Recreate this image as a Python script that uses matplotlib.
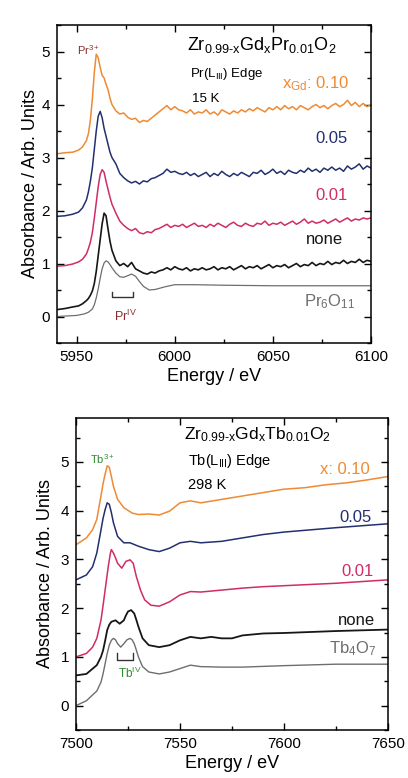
import numpy as np
import matplotlib
matplotlib.use("Agg")
import matplotlib.pyplot as plt
from matplotlib.ticker import MultipleLocator

plt.rcParams['font.family'] = ['Liberation Sans', 'DejaVu Sans']
plt.rcParams['mathtext.fontset'] = 'custom'
plt.rcParams['mathtext.rm'] = 'Liberation Sans'
plt.rcParams['mathtext.it'] = 'Liberation Sans'

# ---------------- Top panel: Pr L_III edge, 15 K ----------------
pr_E_head = [5940, 5944, 5948, 5951, 5953, 5955, 5956, 5957, 5958, 5959,
             5960, 5961, 5962, 5963, 5964, 5965, 5966, 5967, 5968]
pr_E_tail = list(range(5970, 6101, 2))
pr_E = pr_E_head + pr_E_tail

pr_x010 = [3.07, 3.09, 3.10, 3.14, 3.20, 3.32, 3.45, 3.70, 4.10, 4.60,
           4.95, 4.88, 4.70, 4.55, 4.50, 4.38, 4.28, 4.12, 4.00,
           3.88, 3.82, 3.84, 3.76, 3.72, 3.74, 3.66, 3.70, 3.68, 3.74, 3.80,
           3.86, 3.92, 3.98, 3.90, 3.96, 3.90, 3.88, 3.84, 3.90, 3.82, 3.86,
           3.84, 3.90, 3.82, 3.86, 3.80, 3.90, 3.86, 3.82, 3.88, 3.84, 3.90,
           3.86, 3.92, 3.88, 3.94, 3.90, 3.86, 3.94, 3.90, 3.96, 3.90, 3.98,
           3.92, 3.96, 3.90, 3.98, 3.94, 3.90, 3.96, 4.00, 3.94, 3.98, 3.92,
           3.98, 4.02, 3.96, 4.00, 4.08, 3.98, 4.04, 3.96, 4.02, 3.96, 4.00]
pr_x005 = [1.89, 1.90, 1.93, 1.97, 2.05, 2.20, 2.35, 2.55, 2.80, 3.15,
           3.50, 3.78, 3.87, 3.75, 3.55, 3.40, 3.25, 3.10, 3.00,
           2.88, 2.70, 2.62, 2.56, 2.52, 2.55, 2.50, 2.56, 2.54, 2.60, 2.62,
           2.66, 2.70, 2.78, 2.72, 2.74, 2.70, 2.68, 2.72, 2.66, 2.70, 2.64,
           2.68, 2.72, 2.64, 2.70, 2.66, 2.74, 2.68, 2.64, 2.70, 2.66, 2.72,
           2.68, 2.64, 2.72, 2.70, 2.76, 2.68, 2.72, 2.78, 2.70, 2.74, 2.68,
           2.76, 2.72, 2.70, 2.76, 2.72, 2.80, 2.74, 2.78, 2.72, 2.80, 2.76,
           2.82, 2.76, 2.80, 2.74, 2.84, 2.78, 2.82, 2.88, 2.78, 2.84, 2.80]
pr_x001 = [0.95, 0.96, 0.99, 1.03, 1.08, 1.18, 1.28, 1.40, 1.58, 1.85,
           2.15, 2.45, 2.68, 2.77, 2.72, 2.55, 2.40, 2.25, 2.12,
           1.95, 1.80, 1.72, 1.66, 1.62, 1.66, 1.58, 1.56, 1.60, 1.58, 1.64,
           1.66, 1.70, 1.74, 1.68, 1.72, 1.70, 1.74, 1.68, 1.72, 1.76, 1.70,
           1.72, 1.68, 1.74, 1.70, 1.76, 1.72, 1.68, 1.74, 1.78, 1.72, 1.70,
           1.76, 1.72, 1.70, 1.76, 1.74, 1.80, 1.72, 1.76, 1.74, 1.78, 1.72,
           1.76, 1.80, 1.74, 1.78, 1.84, 1.76, 1.80, 1.76, 1.78, 1.82, 1.76,
           1.80, 1.84, 1.78, 1.82, 1.86, 1.80, 1.84, 1.82, 1.86, 1.84, 1.86]
pr_none = [0.13, 0.15, 0.18, 0.20, 0.24, 0.30, 0.34, 0.40, 0.48, 0.62,
           0.85, 1.15, 1.45, 1.75, 1.95, 1.90, 1.65, 1.42, 1.25,
           1.05, 0.96, 1.00, 0.94, 1.02, 0.90, 0.86, 0.82, 0.80, 0.84, 0.82,
           0.86, 0.88, 0.92, 0.88, 0.94, 0.90, 0.88, 0.92, 0.86, 0.90, 0.88,
           0.92, 0.88, 0.90, 0.94, 0.88, 0.92, 0.90, 0.94, 0.88, 0.92, 0.96,
           0.90, 0.94, 0.92, 0.96, 0.90, 0.94, 0.98, 0.92, 0.96, 0.94, 0.98,
           0.92, 0.96, 1.00, 0.94, 0.98, 0.96, 1.02, 0.96, 1.00, 0.98, 1.04,
           0.98, 1.02, 1.00, 1.06, 1.00, 1.04, 1.02, 1.08, 1.02, 1.06, 1.04]

pr6o11_E = [5940, 5945, 5950, 5954, 5956, 5958, 5959, 5960, 5961, 5962, 5963,
            5964, 5965, 5966, 5967, 5968, 5970, 5972, 5974, 5976, 5978, 5980,
            5982, 5984, 5987, 5990, 5995, 6000, 6010, 6025, 6050, 6075, 6100]
pr6o11_y = [0.00, 0.01, 0.02, 0.05, 0.08, 0.14, 0.22, 0.35, 0.52, 0.72, 0.90,
            1.01, 1.05, 1.03, 0.98, 0.92, 0.82, 0.75, 0.74, 0.77, 0.80, 0.76,
            0.66, 0.57, 0.50, 0.51, 0.56, 0.60, 0.60, 0.59, 0.58, 0.58, 0.58]

# ---------------- Bottom panel: Tb L_III edge, 298 K ----------------
tb4o7_E = [7500, 7505, 7510, 7512, 7513, 7514, 7515, 7516, 7517, 7518, 7519,
           7520, 7521.5, 7523, 7524.5, 7526, 7527, 7528, 7529, 7530, 7532,
           7535, 7540, 7545, 7550, 7555, 7560, 7570, 7580, 7600, 7625, 7650]
tb4o7_y = [0.00, 0.10, 0.30, 0.48, 0.65, 0.86, 1.07, 1.24, 1.34, 1.38, 1.35,
           1.27, 1.20, 1.27, 1.35, 1.38, 1.35, 1.27, 1.14, 1.00, 0.80,
           0.69, 0.65, 0.69, 0.76, 0.83, 0.80, 0.79, 0.79, 0.82, 0.85, 0.85]

tbn_E = [7500, 7505, 7510, 7512, 7513, 7514, 7515, 7516, 7517, 7519, 7521,
         7523, 7524, 7525, 7526.5, 7528, 7529, 7530, 7532, 7535, 7540, 7545,
         7550, 7555, 7560, 7565, 7570, 7575, 7580, 7590, 7600, 7625, 7650]
tbn_y = [0.62, 0.65, 0.83, 1.00, 1.13, 1.33, 1.55, 1.66, 1.72, 1.75, 1.68,
         1.75, 1.85, 1.93, 1.96, 1.89, 1.76, 1.62, 1.38, 1.24, 1.20, 1.24,
         1.34, 1.41, 1.38, 1.41, 1.38, 1.38, 1.44, 1.48, 1.49, 1.53, 1.56]

tb001_E = [7500, 7505, 7508, 7510, 7512, 7513, 7514, 7515.5, 7516.5, 7517,
           7518, 7519, 7520, 7522, 7524, 7526, 7527.5, 7529, 7531, 7533, 7536,
           7540, 7545, 7550, 7555, 7560, 7570, 7580, 7590, 7600, 7625, 7650]
tb001_y = [1.00, 1.07, 1.20, 1.38, 1.75, 2.05, 2.37, 2.85, 3.12, 3.20,
           3.13, 3.03, 2.92, 2.82, 2.96, 2.99, 2.92, 2.65, 2.37, 2.17, 2.06,
           2.04, 2.13, 2.27, 2.34, 2.33, 2.37, 2.41, 2.44, 2.46, 2.51, 2.58]

tb005_E = [7500, 7505, 7508, 7510, 7512, 7513, 7514, 7515, 7516, 7517, 7518,
           7520, 7523, 7526, 7530, 7535, 7540, 7545, 7550, 7555, 7560, 7570,
           7580, 7590, 7600, 7625, 7650]
tb005_y = [2.58, 2.68, 2.85, 3.13, 3.60, 3.84, 4.02, 4.16, 4.13, 3.96, 3.75,
           3.47, 3.34, 3.34, 3.27, 3.20, 3.16, 3.23, 3.34, 3.37, 3.34, 3.37,
           3.44, 3.51, 3.56, 3.65, 3.73]

tb010_E = [7500, 7505, 7508, 7510, 7512, 7513, 7514, 7515, 7516, 7517, 7518,
           7520, 7523, 7527, 7530, 7535, 7540, 7545, 7550, 7555, 7560, 7570,
           7580, 7590, 7600, 7610, 7620, 7630, 7640, 7650]
tb010_y = [3.30, 3.44, 3.61, 3.82, 4.30, 4.55, 4.75, 4.92, 4.89, 4.70, 4.50,
           4.23, 4.06, 3.95, 3.92, 3.93, 3.91, 3.99, 4.16, 4.20, 4.16, 4.23,
           4.30, 4.37, 4.44, 4.47, 4.53, 4.57, 4.63, 4.70]

C_OR = '#ef8a33'
C_NV = '#23306f'
C_MG = '#cf2c68'
C_BK = '#161616'
C_GY = '#6e6e6e'
C_PR = '#8a2b2b'
C_TB = '#2f8a2f'

fig = plt.figure(figsize=(4.08, 7.78), dpi=100)
ax1 = fig.add_axes([57/408, 1-343/778, (371-57)/408, (343-25)/778])
ax2 = fig.add_axes([76/408, 1-730/778, (388-76)/408, (730-418)/778])


def style(ax, xlim, ylim, xmaj, ylpad):
    ax.set_xlim(*xlim)
    ax.set_ylim(*ylim)
    ax.xaxis.set_major_locator(MultipleLocator(xmaj))
    ax.xaxis.set_minor_locator(MultipleLocator(xmaj/2))
    ax.yaxis.set_major_locator(MultipleLocator(1))
    ax.yaxis.set_minor_locator(MultipleLocator(0.5))
    ax.tick_params(which='both', direction='in', top=True, right=True,
                   labelsize=11, width=1.0)
    ax.tick_params(which='major', length=5, pad=5)
    ax.tick_params(which='minor', length=3)
    for s in ax.spines.values():
        s.set_linewidth(1.1)
    ax.set_xlabel('Energy / eV', fontsize=13, labelpad=3)
    ax.set_ylabel('Absorbance / Arb. Units', fontsize=13, labelpad=ylpad)


# top
ax1.plot(pr6o11_E, pr6o11_y, color=C_GY, lw=0.9)
ax1.plot(pr_E, pr_none, color=C_BK, lw=1.2)
ax1.plot(pr_E, pr_x001, color=C_MG, lw=1.1)
ax1.plot(pr_E, pr_x005, color=C_NV, lw=1.1)
ax1.plot(pr_E, pr_x010, color=C_OR, lw=1.1)
style(ax1, (5940, 6100), (-0.5, 5.5), 50, 2)

ax1.text(6006, 5.12, r'Zr$_{\mathregular{0.99\text{-}x}}$Gd$_{\mathregular{x}}$Pr$_{\mathregular{0.01}}$O$_{\mathregular{2}}$',
         fontsize=13, ha='left', va='center')
ax1.text(6008, 4.57, r'Pr(L$_{\mathregular{III}}$) Edge', fontsize=9.5, ha='left', va='center')
ax1.text(6009, 4.10, '15 K', fontsize=9.5, ha='left', va='center')
ax1.text(5950, 5.02, r'Pr$^{\mathregular{3+}}$', fontsize=8, color=C_PR, ha='left', va='center')
ax1.text(6089, 4.40, r'x$_{\mathregular{Gd}}$: 0.10', fontsize=12, color=C_OR, ha='right', va='center')
ax1.text(6088, 3.35, '0.05', fontsize=12, color=C_NV, ha='right', va='center')
ax1.text(6088, 2.28, '0.01', fontsize=12, color=C_MG, ha='right', va='center')
ax1.text(6086, 1.45, 'none', fontsize=12, color=C_BK, ha='right', va='center')
ax1.text(6092, 0.28, r'Pr$_{\mathregular{6}}$O$_{\mathregular{11}}$', fontsize=12, color=C_GY, ha='right', va='center')
ax1.plot([5968, 5968, 5978.5, 5978.5], [0.46, 0.36, 0.36, 0.46], color='#333333', lw=1.0)
ax1.text(5975, 0.0, r'Pr$^{\mathregular{IV}}$', fontsize=9, color=C_PR, ha='center', va='center')

# bottom
ax2.plot(tb4o7_E, tb4o7_y, color=C_GY, lw=1.0)
ax2.plot(tbn_E, tbn_y, color=C_BK, lw=1.3)
ax2.plot(tb001_E, tb001_y, color=C_MG, lw=1.1)
ax2.plot(tb005_E, tb005_y, color=C_NV, lw=1.1)
ax2.plot(tb010_E, tb010_y, color=C_OR, lw=1.1)
style(ax2, (7500, 7650), (-0.5, 5.9), 50, 5)

ax2.text(7552, 5.55, r'Zr$_{\mathregular{0.99\text{-}x}}$Gd$_{\mathregular{x}}$Tb$_{\mathregular{0.01}}$O$_{\mathregular{2}}$',
         fontsize=12.5, ha='left', va='center')
ax2.text(7554, 5.02, r'Tb(L$_{\mathregular{III}}$) Edge', fontsize=10.5, ha='left', va='center')
ax2.text(7554, 4.52, '298 K', fontsize=10.5, ha='left', va='center')
ax2.text(7506.5, 5.05, r'Tb$^{\mathregular{3+}}$', fontsize=8, color=C_TB, ha='left', va='center')
ax2.text(7641, 4.85, 'x: 0.10', fontsize=12, color=C_OR, ha='right', va='center')
ax2.text(7642, 3.85, '0.05', fontsize=12, color=C_NV, ha='right', va='center')
ax2.text(7643, 2.75, '0.01', fontsize=12, color=C_MG, ha='right', va='center')
ax2.text(7644, 1.75, 'none', fontsize=12, color=C_BK, ha='right', va='center')
ax2.text(7644.5, 1.17, r'Tb$_{\mathregular{4}}$O$_{\mathregular{7}}$', fontsize=12, color=C_GY, ha='right', va='center')
ax2.plot([7519.5, 7519.5, 7527.5, 7527.5], [1.07, 0.94, 0.94, 1.07], color='#333333', lw=1.0)
ax2.text(7526, 0.66, r'Tb$^{\mathregular{IV}}$', fontsize=8.5, color=C_TB, ha='center', va='center')

fig.savefig('out.png', dpi=100)
